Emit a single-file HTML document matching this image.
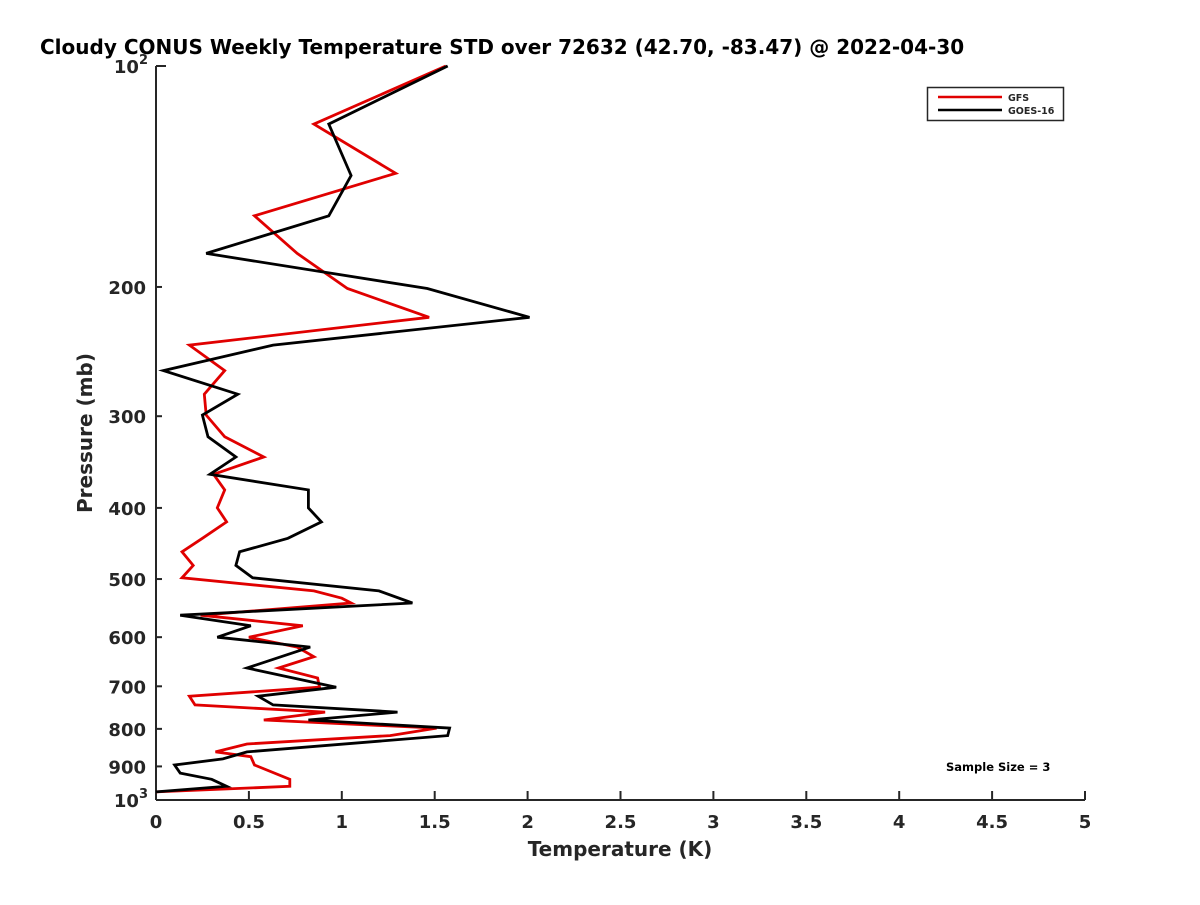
<!DOCTYPE html>
<html><head><meta charset="utf-8"><style>
body{margin:0;background:#fff;width:1200px;height:900px;overflow:hidden}
text{font-family:"DejaVu Sans","Liberation Sans",sans-serif;font-weight:bold;fill:#262626}
</style></head><body>
<svg id="chart" width="1200" height="900" xmlns="http://www.w3.org/2000/svg">
<text x="40" y="54" font-size="20" style="fill:#000">Cloudy CONUS Weekly Temperature STD over 72632 (42.70, -83.47) @ 2022-04-30</text>
<g id="axes"></g>
<g id="series"></g>
<g>
<rect x="927.5" y="87.5" width="136" height="33" fill="#fff" stroke="#262626" stroke-width="1.5"/>
<line x1="938" y1="97" x2="1002" y2="97" stroke="#e00000" stroke-width="2.5"/>
<text x="1008" y="101" font-size="9.5">GFS</text>
<line x1="938" y1="110" x2="1002" y2="110" stroke="#000" stroke-width="2.5"/>
<text x="1008" y="114" font-size="9.5">GOES-16</text>
</g>
<text x="946" y="771" font-size="11.5" style="fill:#000">Sample Size = 3</text>
<text x="620" y="856" font-size="20" text-anchor="middle">Temperature (K)</text>
<text transform="translate(92,433) rotate(-90)" font-size="20" text-anchor="middle">Pressure (mb)</text>
</svg>
<script>
const gfsPressure=[100,120,140,160,180,201,220,240,260,280,299,320,341,360,378,400,418,440,459,479,498,519,531,539,560,579,600,619,638,661,682,702,722,742,759,778,798,817,839,860,873,896,937,958,975];
const gfsTemp=[1.56,0.85,1.29,0.53,0.76,1.03,1.47,0.18,0.37,0.26,0.27,0.37,0.58,0.31,0.37,0.33,0.38,0.25,0.14,0.20,0.14,0.85,1.00,1.05,0.24,0.79,0.50,0.76,0.85,0.66,0.87,0.88,0.18,0.21,0.91,0.58,1.51,1.26,0.49,0.32,0.51,0.53,0.72,0.72,0.0];
const goesPressure=[100,120,141,160,180,201,220,240,260,280,299,320,341,360,378,400,418,440,459,479,498,519,539,560,579,600,619,661,702,722,742,759,778,798,817,860,879,896,919,937,958,975];
const goesTemp=[1.57,0.93,1.05,0.93,0.27,1.46,2.01,0.63,0.04,0.44,0.25,0.28,0.43,0.29,0.82,0.82,0.89,0.71,0.45,0.43,0.52,1.20,1.38,0.13,0.51,0.33,0.83,0.49,0.97,0.55,0.63,1.30,0.82,1.58,1.57,0.49,0.36,0.10,0.13,0.30,0.38,0.0];
const xTicks=[0,0.5,1,1.5,2,2.5,3,3.5,4,4.5,5];
const xTickLabels=["0","0.5","1","1.5","2","2.5","3","3.5","4","4.5","5"];
const yMinorTicks=[200,300,400,500,600,700,800,900];

const X0=156,X1=1085,Y0=66,Y1=800;
function xs(t){return X0+(t-0)/(5-0)*(X1-X0);}
function ys(p){return Y0+(Math.log10(p)-2)*(Y1-Y0);}
const NS="http://www.w3.org/2000/svg";
function mk(tag,attrs,parent){const e=document.createElementNS(NS,tag);for(const k in attrs)e.setAttribute(k,attrs[k]);parent.appendChild(e);return e;}
const axes=document.getElementById('axes');
const series=document.getElementById('series');
let a=mk('line',{x1:X0,y1:Y0,x2:X0,y2:Y1,stroke:'#262626','stroke-width':2},axes);


a=mk('line',{x1:X0,y1:Y1,x2:X1,y2:Y1,stroke:'#262626','stroke-width':2},axes);


xTicks.forEach((t,i)=>{
 const x=xs(t);
 const l=mk('line',{x1:x,y1:Y1,x2:x,y2:Y1-9,stroke:'#262626','stroke-width':2},axes);
 
 
 const tx=mk('text',{x:x,y:Y1+28,'font-size':18,'text-anchor':'middle'},axes);
 tx.textContent=xTickLabels[i];
 
 
});
[100,1000].forEach(p=>{
 const y=ys(p);
 const l=mk('line',{x1:X0,y1:y,x2:X0+10,y2:y,stroke:'#262626','stroke-width':2},axes);
 
 
 const tx=mk('text',{x:X0-8,y:y+7,'font-size':18,'text-anchor':'end'},axes);
 tx.innerHTML='10<tspan dy="-9" font-size="13">'+(p===100?'2':'3')+'</tspan>';
 
 
});
yMinorTicks.forEach(p=>{
 const y=ys(p);
 const l=mk('line',{x1:X0,y1:y,x2:X0+6,y2:y,stroke:'#262626','stroke-width':2},axes);
 
 
 const tx=mk('text',{x:X0-10,y:y+7,'font-size':18,'text-anchor':'end'},axes);
 tx.textContent=String(p);
 
 
});
function line(P,T,color,name){
 const pts=P.map((p,i)=>xs(T[i]).toFixed(1)+','+ys(p).toFixed(1)).join(' ');
 const pl=mk('polyline',{points:pts,fill:'none',stroke:color,'stroke-width':2.8,'stroke-linejoin':'miter'},series);
 
 
}
line(gfsPressure,gfsTemp,'#e00000','gfs-line');
line(goesPressure,goesTemp,'#000000','goes16-line');
</script>
</body></html>
